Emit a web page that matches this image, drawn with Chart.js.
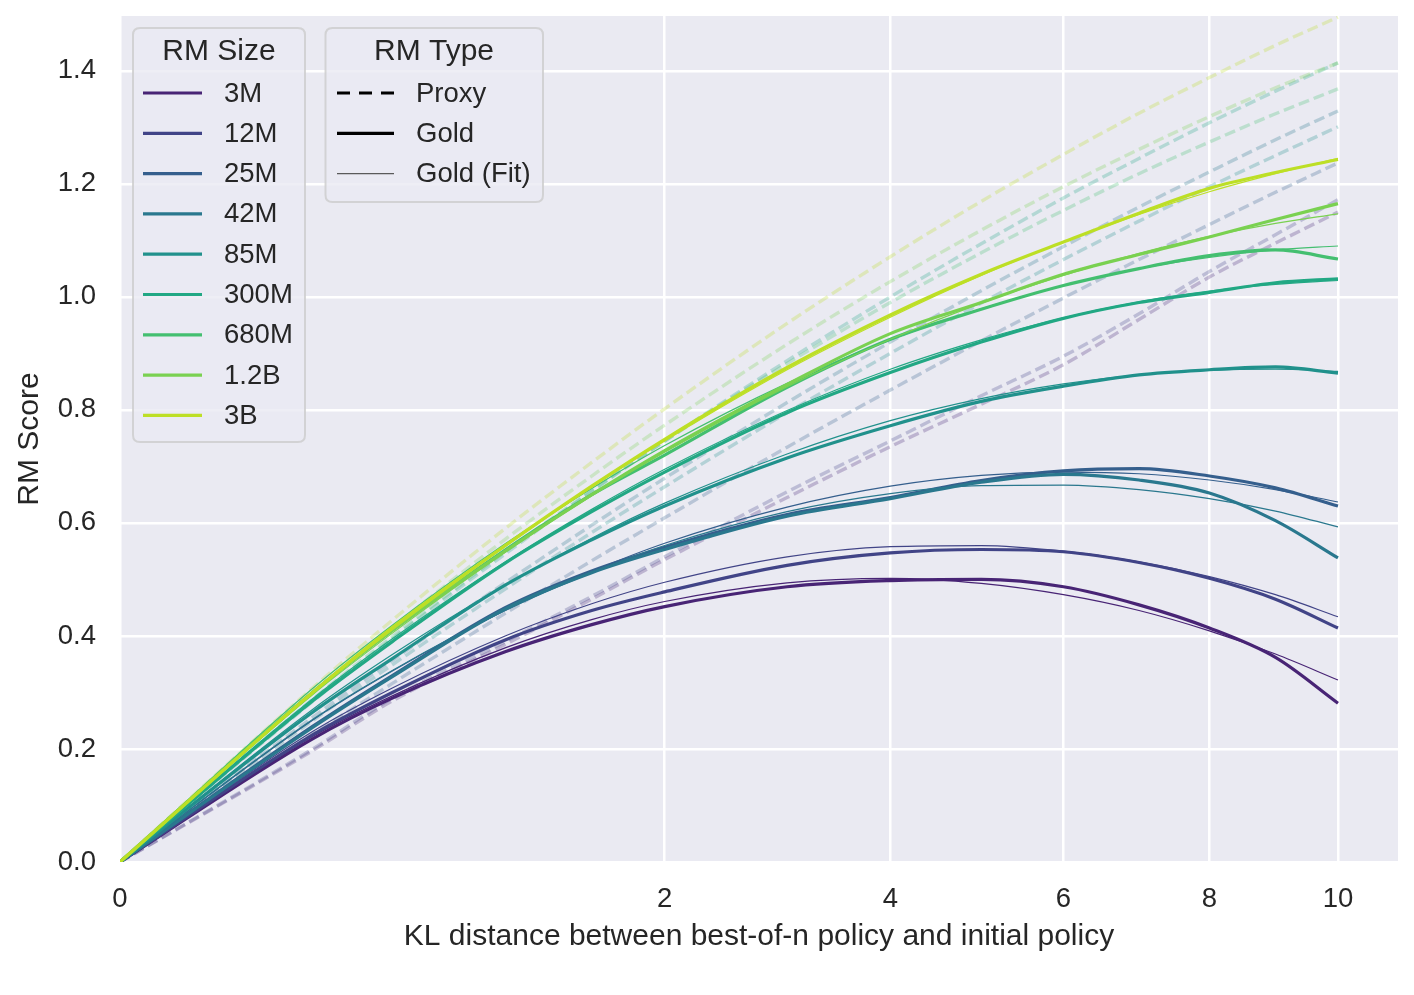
<!DOCTYPE html>
<html>
<head>
<meta charset="utf-8">
<script src="https://cdn.jsdelivr.net/npm/chart.js@4.4.1/dist/chart.umd.min.js"></script>
<style>
  html, body { margin: 0; padding: 0; background: #ffffff; }
  #wrap { width: 1414px; height: 995px; position: relative; }
</style>
</head>
<body>
<div id="wrap"><canvas id="c" width="1414" height="995"></canvas></div>
<script>
// ---- data (KL distance between best-of-n policy and initial policy) ----
const kl = [0, 0.25, 0.5, 1, 1.5, 2, 3, 4, 5, 6, 7, 8, 9, 10];
const sizes = ['3M', '12M', '25M', '42M', '85M', '300M', '680M', '1.2B', '3B'];
const sizeColors = ['#482475', '#414487', '#355f8d', '#2a788e', '#21918c', '#22a884', '#44bf70', '#7ad151', '#bddf26'];
const xTicks = [0, 2, 4, 6, 8, 10];
const yTicks = [0, 0.2, 0.4, 0.6, 0.8, 1.0, 1.2, 1.4];

// Proxy RM score (dashed)
const proxyScores = [
  [0, 0.197, 0.285, 0.385, 0.465, 0.535, 0.645, 0.735, 0.810, 0.880, 0.960, 1.035, 1.095, 1.150],
  [0, 0.200, 0.290, 0.390, 0.470, 0.540, 0.655, 0.745, 0.825, 0.895, 0.970, 1.045, 1.110, 1.172],
  [0, 0.226, 0.316, 0.440, 0.533, 0.609, 0.734, 0.835, 0.922, 0.998, 1.066, 1.128, 1.185, 1.237],
  [0, 0.256, 0.357, 0.494, 0.596, 0.679, 0.813, 0.920, 1.011, 1.089, 1.159, 1.221, 1.278, 1.329],
  [0, 0.250, 0.349, 0.483, 0.583, 0.664, 0.795, 0.900, 0.989, 1.066, 1.134, 1.195, 1.250, 1.301],
  [0, 0.284, 0.395, 0.545, 0.656, 0.745, 0.887, 1.000, 1.094, 1.175, 1.245, 1.308, 1.364, 1.414],
  [0, 0.288, 0.399, 0.549, 0.657, 0.745, 0.882, 0.990, 1.078, 1.153, 1.218, 1.274, 1.324, 1.368],
  [0, 0.300, 0.415, 0.571, 0.683, 0.773, 0.916, 1.027, 1.118, 1.195, 1.261, 1.319, 1.370, 1.414],
  [0, 0.308, 0.428, 0.590, 0.707, 0.802, 0.953, 1.071, 1.169, 1.252, 1.325, 1.388, 1.445, 1.495]
];

// Gold RM score (thick solid)
const goldScores = [
  [0, 0.218, 0.290, 0.372, 0.420, 0.452, 0.487, 0.498, 0.500, 0.487, 0.455, 0.414, 0.362, 0.281],
  [0, 0.225, 0.300, 0.393, 0.445, 0.478, 0.525, 0.547, 0.553, 0.549, 0.530, 0.502, 0.465, 0.414],
  [0, 0.240, 0.330, 0.450, 0.515, 0.557, 0.615, 0.645, 0.675, 0.692, 0.696, 0.683, 0.662, 0.630],
  [0, 0.238, 0.328, 0.448, 0.512, 0.553, 0.612, 0.643, 0.672, 0.686, 0.676, 0.653, 0.604, 0.538],
  [0, 0.265, 0.360, 0.490, 0.570, 0.630, 0.715, 0.772, 0.815, 0.842, 0.862, 0.871, 0.876, 0.865],
  [0, 0.285, 0.390, 0.529, 0.620, 0.690, 0.795, 0.866, 0.920, 0.962, 0.990, 1.008, 1.025, 1.032],
  [0, 0.300, 0.410, 0.552, 0.650, 0.720, 0.840, 0.925, 0.978, 1.020, 1.050, 1.073, 1.083, 1.067],
  [0, 0.300, 0.410, 0.550, 0.650, 0.728, 0.845, 0.935, 0.990, 1.040, 1.075, 1.106, 1.137, 1.165],
  [0, 0.300, 0.415, 0.560, 0.665, 0.748, 0.875, 0.968, 1.040, 1.097, 1.148, 1.192, 1.220, 1.243]
];

// Gold RM score, fitted curve (thin solid)
const fitScores = [
  [0, 0.222, 0.294, 0.379, 0.429, 0.461, 0.494, 0.502, 0.493, 0.473, 0.445, 0.409, 0.368, 0.322],
  [0, 0.231, 0.308, 0.400, 0.457, 0.495, 0.540, 0.558, 0.560, 0.550, 0.531, 0.505, 0.473, 0.434],
  [0, 0.251, 0.338, 0.445, 0.514, 0.564, 0.628, 0.665, 0.684, 0.690, 0.687, 0.676, 0.659, 0.637],
  [0, 0.252, 0.339, 0.445, 0.512, 0.560, 0.620, 0.652, 0.666, 0.667, 0.659, 0.643, 0.621, 0.593],
  [0, 0.270, 0.367, 0.490, 0.573, 0.635, 0.722, 0.781, 0.820, 0.846, 0.862, 0.870, 0.872, 0.868],
  [0, 0.289, 0.395, 0.531, 0.624, 0.695, 0.799, 0.872, 0.924, 0.963, 0.991, 1.010, 1.022, 1.029],
  [0, 0.307, 0.419, 0.563, 0.661, 0.737, 0.847, 0.924, 0.979, 1.020, 1.050, 1.070, 1.083, 1.090],
  [0, 0.296, 0.405, 0.548, 0.648, 0.725, 0.841, 0.925, 0.989, 1.038, 1.077, 1.107, 1.130, 1.147],
  [0, 0.298, 0.411, 0.558, 0.663, 0.745, 0.871, 0.964, 1.038, 1.097, 1.146, 1.186, 1.218, 1.245]
];

// ---- square-root x scale ----
class SqrtScale extends Chart.LinearScale {
  getPixelForValue(value) {
    if (value === null || value === undefined || isNaN(value)) return NaN;
    const a = Math.sqrt(this.min), b = Math.sqrt(this.max);
    return this.getPixelForDecimal((Math.sqrt(Math.max(0, value)) - a) / (b - a));
  }
  getValueForPixel(pixel) {
    const a = Math.sqrt(this.min), b = Math.sqrt(this.max);
    const s = a + this.getDecimalForPixel(pixel) * (b - a);
    return s * s;
  }
}
SqrtScale.id = 'sqrt';
SqrtScale.defaults = Chart.LinearScale.defaults;
Chart.register(SqrtScale);

const FONT = "'Liberation Sans', Arial, Helvetica, sans-serif";
const TEXT = '#262626';
Chart.defaults.font.family = FONT;
Chart.defaults.color = TEXT;

function hexA(hex, a) {
  const r = parseInt(hex.slice(1, 3), 16), g = parseInt(hex.slice(3, 5), 16), b = parseInt(hex.slice(5, 7), 16);
  return `rgba(${r},${g},${b},${a})`;
}
function pts(arr) { return kl.map((k, j) => ({ x: k, y: arr[j] })); }

const datasets = [];
sizes.forEach((s, i) => {
  const c = sizeColors[i];
  datasets.push({
    label: s + ' proxy', data: pts(proxyScores[i]),
    borderColor: hexA(c, 0.27), borderWidth: 3.4, borderDash: [11, 5],
    pointRadius: 0, cubicInterpolationMode: 'monotone', fill: false,
    order: 100 + (9 - i)
  });
  datasets.push({
    label: s + ' gold', data: pts(goldScores[i]),
    borderColor: c, borderWidth: 3.2,
    pointRadius: 0, cubicInterpolationMode: 'monotone', fill: false,
    order: (9 - i) * 2 + 1
  });
  datasets.push({
    label: s + ' gold fit', data: pts(fitScores[i]),
    borderColor: c, borderWidth: 1.2,
    pointRadius: 0, cubicInterpolationMode: 'monotone', fill: false,
    order: (9 - i) * 2
  });
});

const bgPlugin = {
  id: 'plotBg',
  beforeDraw(chart) {
    const { ctx, chartArea: a } = chart;
    ctx.save();
    ctx.fillStyle = '#eaeaf2';
    ctx.fillRect(a.left, a.top, a.right - a.left, a.bottom - a.top);
    ctx.restore();
  }
};

function roundRect(ctx, x, y, w, h, r) {
  ctx.beginPath();
  ctx.moveTo(x + r, y);
  ctx.lineTo(x + w - r, y);
  ctx.quadraticCurveTo(x + w, y, x + w, y + r);
  ctx.lineTo(x + w, y + h - r);
  ctx.quadraticCurveTo(x + w, y + h, x + w - r, y + h);
  ctx.lineTo(x + r, y + h);
  ctx.quadraticCurveTo(x, y + h, x, y + h - r);
  ctx.lineTo(x, y + r);
  ctx.quadraticCurveTo(x, y, x + r, y);
  ctx.closePath();
}

const legendPlugin = {
  id: 'twoLegends',
  afterDraw(chart) {
    const ctx = chart.ctx;
    ctx.save();
    roundRect(ctx, 133, 28, 172, 414, 7);
    ctx.fillStyle = 'rgba(234,234,242,0.8)';
    ctx.fill();
    ctx.strokeStyle = 'rgba(204,204,204,0.8)';
    ctx.lineWidth = 2;
    ctx.stroke();
    roundRect(ctx, 325.5, 28, 217.5, 174, 7);
    ctx.fill();
    ctx.stroke();

    ctx.fillStyle = TEXT;
    ctx.textBaseline = 'middle';
    ctx.textAlign = 'center';
    ctx.font = `30px ${FONT}`;
    ctx.fillText('RM Size', 219, 52);
    ctx.fillText('RM Type', 434, 52);

    ctx.textAlign = 'left';
    ctx.font = `27.5px ${FONT}`;
    sizes.forEach((s, i) => {
      const y = 93 + i * 40.3;
      ctx.beginPath();
      ctx.strokeStyle = sizeColors[i];
      ctx.lineWidth = 3.2;
      ctx.setLineDash([]);
      ctx.moveTo(143, y); ctx.lineTo(202, y);
      ctx.stroke();
      ctx.fillStyle = TEXT;
      ctx.fillText(s, 224, y + 1);
    });

    const types = [
      { t: 'Proxy', dash: [13, 9], w: 3.2, c: '#000000' },
      { t: 'Gold', dash: [], w: 3.2, c: '#000000' },
      { t: 'Gold (Fit)', dash: [], w: 1.2, c: '#5a5a5a' }
    ];
    types.forEach((o, i) => {
      const y = 93 + i * 40.3;
      ctx.beginPath();
      ctx.strokeStyle = o.c;
      ctx.lineWidth = o.w;
      ctx.setLineDash(o.dash);
      ctx.moveTo(337, y); ctx.lineTo(394, y);
      ctx.stroke();
      ctx.setLineDash([]);
      ctx.fillStyle = TEXT;
      ctx.fillText(o.t, 416, y + 1);
    });
    ctx.restore();
  }
};

new Chart(document.getElementById('c'), {
  type: 'line',
  data: { datasets },
  options: {
    responsive: false,
    animation: false,
    devicePixelRatio: 1,
    layout: { padding: { left: 0, right: 16, top: 16, bottom: 0 } },
    plugins: { legend: { display: false }, tooltip: { enabled: false } },
    elements: { line: { tension: 0 } },
    scales: {
      x: {
        type: 'sqrt',
        min: 0,
        max: 11.01,
        afterBuildTicks: (s) => { s.ticks = xTicks.map(v => ({ value: v })); },
        afterFit: (s) => { s.height = 133; s.paddingLeft = 0; s.paddingRight = 0; },
        ticks: {
          autoSkip: false, maxRotation: 0, padding: 21,
          font: { size: 27.5, family: FONT }, color: TEXT,
          callback: (v) => String(v)
        },
        grid: { color: '#ffffff', lineWidth: 2.5, drawTicks: false },
        border: { display: false },
        title: {
          display: true,
          text: 'KL distance between best-of-n policy and initial policy',
          font: { size: 30, family: FONT, lineHeight: 1.2 }, color: TEXT,
          padding: { top: 0, bottom: 40 }
        }
      },
      y: {
        type: 'linear',
        min: 0,
        max: 1.497,
        afterBuildTicks: (s) => { s.ticks = yTicks.map(v => ({ value: v })); },
        afterFit: (s) => { s.width = 120; s.paddingTop = 0; s.paddingBottom = 0; },
        ticks: {
          padding: 24,
          font: { size: 27.5, family: FONT }, color: TEXT,
          callback: (v) => Number(v).toFixed(1)
        },
        grid: { color: '#ffffff', lineWidth: 2.5, drawTicks: false },
        border: { display: false },
        title: {
          display: true,
          text: 'RM Score',
          font: { size: 30, family: FONT, lineHeight: 1.2 }, color: TEXT,
          padding: { top: 12, bottom: 0 }
        }
      }
    }
  },
  plugins: [bgPlugin, legendPlugin]
});
</script>
</body>
</html>
